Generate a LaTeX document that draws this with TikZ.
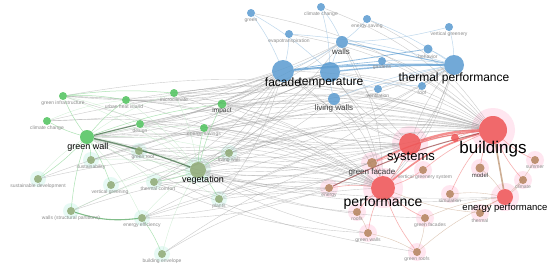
\documentclass[tikz,border=0pt]{standalone}
\usepackage{fontspec}
\setmainfont{Liberation Sans}
\usetikzlibrary{positioning}

\definecolor{kwblue}{HTML}{5A9BD0}
\definecolor{kwgreen}{HTML}{4EC25C}
\definecolor{kwolive}{HTML}{8EA874}
\definecolor{kwred}{HTML}{EE5454}
\definecolor{kwbrown}{HTML}{B3835C}
\definecolor{lbgray}{HTML}{8C8C8C}
\definecolor{lbdark}{HTML}{3A3A3A}
\definecolor{halopink}{HTML}{FFC9DE}
\definecolor{halocyan}{HTML}{C9F3E8}

\pgfdeclarelayer{back}
\pgfsetlayers{back,main}

\begin{document}
\begin{tikzpicture}[x=1pt, y=-1pt,
  kw/.style={circle, inner sep=0pt, fill opacity=0.85, minimum size=#1},
  kb/.style={kw=#1, fill=kwblue},   kb/.default=8pt,
  kg/.style={kw=#1, fill=kwgreen},  kg/.default=8pt,
  ko/.style={kw=#1, fill=kwolive},  ko/.default=8pt,
  kr/.style={kw=#1, fill=kwred},    kr/.default=8pt,
  kn/.style={kw=#1, fill=kwbrown},  kn/.default=8pt,
  tsm/.style={font=\fontsize{5}{5}\selectfont, text=lbgray, inner sep=0pt},
  tmid/.style={font=\fontsize{#1}{#1}\selectfont, text=lbdark, inner sep=0pt},
  tbig/.style={font=\fontsize{#1}{#1}\selectfont, text=black, inner sep=0pt},
  gedge/.style={gray!80, line width=0.4pt, opacity=0.5},
  cedge/.style={#1, opacity=0.65},
  halo/.style={#1, opacity=0.45},
]
\useasboundingbox (0,0) rectangle (550,268);

% Cluster 1 (blau)
\node[kb]       (green)  at (251,13) {};
\node[kb]       (climch) at (321,7)  {};
\node[kb]       (ensav)  at (367,19) {};
\node[kb]       (vgry)   at (449,27) {};
\node[kb]       (evapo)  at (289,34) {};
\node[kb=12pt]  (walls)  at (342,42) {};
\node[kb=9pt]   (behav)  at (428,49) {};
\node[kb]       (gard)   at (382,61) {};
\node[kb=22pt]  (fac)    at (283,71) {};
\node[kb=20pt]  (temp)   at (330,72) {};
\node[kb=20pt]  (thperf) at (454,65) {};
\node[kb=12pt]  (livw)   at (334,99) {};
\node[kb]       (vent)   at (378,89) {};
\node[kb]       (roof)   at (422,86) {};

% Cluster 2 (gruen)
\node[kg]       (ginfra) at (63,96)   {};
\node[kg]       (uhi)    at (126,100) {};
\node[kg]       (micro)  at (174,93)  {};
\node[kg=9pt]   (impact) at (222,104) {};
\node[kg]       (gclim)  at (47,121)  {};
\node[kg]       (design) at (140,124) {};
\node[kg]       (esavs)  at (204,128) {};
\node[kg=14pt]  (gwall)  at (87,137)  {};
\node[ko]       (groof)  at (139,151) {};
\node[ko]       (livwl)  at (229,153) {};
\node[ko]       (sust)   at (91,160)  {};
\node[ko=16pt]  (veg)    at (198,170) {};
\node[ko]       (sdev)   at (38,179)  {};
\node[ko]       (vgrng)  at (111,185) {};
\node[ko]       (tcomf)  at (154,182) {};
\node[ko]       (plants) at (219,199) {};
\node[ko]       (wsp)    at (71,211)  {};
\node[ko]       (eeff)   at (142,218) {};
\node[ko]       (benv)   at (162,254) {};

% Cluster 3 (rot)
\node[kr=28pt]  (bld)    at (493,130) {};
\node[kr=22pt]  (sys)    at (410,144) {};
\node[kr=24pt]  (perf)   at (383,188) {};
\node[kr=16pt]  (eperf)  at (505,197) {};
\node[kr]       (gsys)   at (455,138) {};
\node[kn=10pt]  (gfac)   at (372,163) {};
\node[kn]       (vgs)    at (423,170) {};
\node[kn]       (energy) at (329,188) {};
\node[kn]       (roofs)  at (357,212) {};
\node[kn]       (gwalls) at (368,233) {};
\node[kn]       (gfacs)  at (425,218) {};
\node[kn]       (groofs) at (417,252) {};
\node[kn=9pt]   (model)  at (480,168) {};
\node[kn]       (summer) at (535,160) {};
\node[kn]       (clim)   at (523,180) {};
\node[kn]       (simu)   at (450,194) {};
\node[kn]       (therm)  at (480,213) {};

\begin{pgfonlayer}{back}
\fill[white] (0,0) rectangle (550,268);
% Hoefe
\foreach \n/\r in {bld/22, sys/18, perf/20, eperf/14, gfac/11, vgs/9, energy/9, roofs/9,
                   gwalls/9, gfacs/9, groofs/9, model/9, summer/9, clim/9, simu/9, therm/9}
  \fill[halo=halopink] (\n) circle (\r);
\foreach \n in {groof, livwl, sust, sdev, vgrng, tcomf, plants, wsp, eeff, benv}
  \fill[halo=halocyan] (\n) circle (8);
\fill[halo=halocyan] (veg) circle (13);
% Graue Kanten
\foreach \a/\b in {bld/gwall, bld/veg, bld/fac, bld/temp, bld/walls, bld/livw, bld/ginfra,
                   bld/micro, bld/impact, bld/design, bld/esavs, bld/groof, bld/livwl,
                   bld/sust, bld/tcomf, bld/plants, bld/eeff, bld/benv, bld/vgrng, bld/wsp,
                   bld/evapo, bld/green, bld/climch, bld/ensav, bld/uhi, perf/gwall,
                   perf/fac, perf/temp, perf/thperf, perf/walls, perf/livw, perf/impact,
                   perf/design, perf/esavs, perf/tcomf, perf/eeff, perf/benv, perf/plants,
                   perf/ginfra, perf/uhi, perf/sdev, perf/wsp, perf/gclim, perf/sust,
                   bld/gclim, bld/sdev, perf/micro, perf/groof}
  \draw[gedge] (\a) to[bend right=14] (\b);
\foreach \a/\b in {sys/gwall, sys/veg, sys/fac, sys/temp, sys/thperf, sys/walls, sys/livw,
                   sys/impact, sys/design, sys/micro, sys/esavs, sys/plants, sys/groof,
                   fac/gwall, fac/veg, fac/impact, fac/micro, fac/uhi, fac/design,
                   fac/esavs, fac/livwl, fac/tcomf, fac/plants, fac/ginfra, temp/gwall,
                   temp/veg, temp/impact, temp/micro, temp/uhi, temp/design, temp/esavs,
                   temp/tcomf, thperf/gwall, thperf/veg, thperf/impact, thperf/livwl,
                   thperf/eeff, thperf/perf, thperf/sys, eperf/veg, eperf/gwall,
                   gfac/gwall, gfac/veg, livw/veg, livw/gwall, walls/gwall, walls/veg,
                   energy/gwall, energy/veg, gwalls/veg, roofs/veg, groofs/gwall,
                   sys/ginfra, sys/uhi, sys/tcomf, sys/eeff, fac/gclim, fac/sust,
                   temp/ginfra, walls/impact, walls/micro, livw/impact, thperf/uhi,
                   energy/tcomf, energy/eeff, gfacs/veg, gwalls/tcomf}
  \draw[gedge] (\a) to[bend left=10] (\b);
\foreach \a/\b in {gwall/micro, gwall/esavs, gwall/livwl, gwall/tcomf, gwall/eeff,
                   gwall/plants, gwall/groof, ginfra/design, gclim/uhi, sust/veg,
                   sdev/gwall, vgrng/veg, wsp/veg, benv/veg, eeff/veg, uhi/veg,
                   micro/veg, design/veg, groof/veg, ginfra/veg}
  \draw[kwgreen!40, line width=0.35pt, opacity=0.6] (\a) to[bend left=8] (\b);
% Farbige Kanten
\draw[cedge=kwblue, line width=1.8pt] (fac) to[bend left=3] (thperf);
\draw[cedge=kwblue, line width=1.4pt] (temp) to[bend left=3] (thperf);
\draw[cedge=kwblue, line width=1pt] (walls) -- (thperf);
\draw[cedge=kwblue, line width=0.8pt] (behav) -- (fac);
\draw[cedge=kwblue, line width=0.6pt] (gard) -- (fac);
\foreach \a/\b in {ensav/thperf, evapo/thperf, livw/thperf, temp/walls, walls/fac,
                   vgry/thperf, behav/thperf, roof/temp, vent/temp, climch/temp,
                   green/fac, evapo/fac, ensav/walls, livw/temp, roof/thperf, vent/thperf,
                   climch/walls, green/temp, vgry/walls, gard/thperf}
  \draw[cedge=kwblue!60, line width=0.5pt] (\a) to[bend left=6] (\b);
\draw[cedge=kwgreen!45!black, line width=1.3pt] (gwall) to[bend left=4] (veg);
\draw[cedge=kwgreen!45!black, line width=1pt] (gwall) -- (design);
\draw[cedge=kwgreen!80!black, line width=1.1pt] (wsp) to[bend right=12] (eeff);
\foreach \a/\b in {gwall/ginfra, gwall/uhi, gwall/gclim, gwall/sust, ginfra/uhi,
                   ginfra/micro, wsp/gwall, veg/livwl, veg/esavs, veg/tcomf, veg/plants,
                   gwall/vgrng, gwall/impact, veg/impact, gwall/sdev, eeff/benv}
  \draw[cedge=kwgreen!70, line width=0.5pt] (\a) to[bend left=6] (\b);
\draw[cedge=kwred, line width=2.4pt] (sys) to[bend left=8] (bld);
\draw[cedge=kwred, line width=1.6pt] (perf) to[bend left=12] (bld);
\draw[cedge=kwred, line width=1.2pt] (gfac) to[bend left=10] (bld);
\draw[cedge=kwred!60!black, line width=1pt] (energy) to[bend left=6] (bld);
\draw[cedge=kwbrown, line width=1.6pt] (eperf) -- (bld);
\foreach \a/\b in {model/bld, summer/bld, clim/bld, sys/perf, gfac/perf, roofs/perf,
                   gwalls/perf, gfacs/perf, groofs/perf, therm/eperf, simu/bld, vgs/bld,
                   sys/gfac, gsys/bld, energy/perf, vgs/perf}
  \draw[cedge=kwred!70, line width=0.6pt] (\a) to[bend left=8] (\b);
\foreach \a/\b in {roofs/gwalls, gwalls/groofs, gfacs/groofs, model/eperf, clim/eperf,
                   summer/eperf, simu/eperf, therm/perf, gfacs/eperf, groofs/eperf}
  \draw[cedge=kwbrown!70, line width=0.4pt] (\a) to[bend left=8] (\b);
\end{pgfonlayer}

% Beschriftungen
\node[tsm]        (t-green)  at (251,20.5) {green};
\node[tsm]        (t-climch) at (321,14.5) {climate change};
\node[tsm]        (t-ensav)  at (367,26.5) {energy saving};
\node[tsm]        (t-vgry)   at (449,34.5) {vertical greenery};
\node[tsm]        (t-evapo)  at (289,41.5) {evapotranspiration};
\node[tmid=8]     (t-walls)  at (341,52)   {walls};
\node[tsm]        (t-behav)  at (428,57)   {behavior};
\node[tsm]        (t-gard)   at (382,67.5) {gardens};
\node[tbig=12]    (t-fac)    at (283,82.5) {facade};
\node[tbig=12]    (t-temp)   at (331,82.5) {temperature};
\node[tbig=12]    (t-thperf) at (454,78)   {thermal performance};
\node[tmid=8]     (t-livw)   at (334,108)  {living walls};
\node[tsm]        (t-vent)   at (378,96)   {ventilation};
\node[tsm]        (t-roof)   at (422,92.5) {roof};

\node[tsm]        (t-ginfra) at (63,103)   {green infrastructure};
\node[tsm]        (t-uhi)    at (124,107)  {urban heat island};
\node[tsm]        (t-micro)  at (174,99.5) {microclimate};
\node[tmid=6.5]   (t-impact) at (222,111)  {impact};
\node[tsm]        (t-gclim)  at (47,128)   {climate change};
\node[tsm]        (t-design) at (140,131)  {design};
\node[tsm]        (t-esavs)  at (204,134.5) {energy savings};
\node[tbig=9]     (t-gwall)  at (88,147)   {green wall};
\node[tsm]        (t-groof)  at (143,157.5) {green roof};
\node[tsm]        (t-livwl)  at (229,160)  {living wall};
\node[tsm]        (t-sust)   at (91,167.5) {sustainability};
\node[tbig=9]     (t-veg)    at (203,180)  {vegetation};
\node[tsm]        (t-sdev)   at (38,186)   {sustainable development};
\node[tsm]        (t-vgrng)  at (110,192.5) {vertical greening};
\node[tsm]        (t-tcomf)  at (158,188.5) {thermal comfort};
\node[tsm]        (t-plants) at (219,206)  {plants};
\node[tsm]        (t-wsp)    at (71,218)   {walls (structural partitions)};
\node[tsm]        (t-eeff)   at (142,225.5) {energy efficiency};
\node[tsm]        (t-benv)   at (162,261)  {building envelope};

\node[tbig=17]    (t-bld)    at (493,149)  {buildings};
\node[tbig=13]    (t-sys)    at (411,158)  {systems};
\node[tbig=14]    (t-perf)   at (383,203)  {performance};
\node[tbig=9.5]   (t-eperf)  at (505,208)  {energy performance};
\node[tmid=8]     (t-gfac)   at (372,172.5) {green facade};
\node[tsm]        (t-vgs)    at (425,177)  {vertical greenery system};
\node[tsm]        (t-energy) at (329,195.5) {energy};
\node[tsm]        (t-roofs)  at (357,219)  {roofs};
\node[tsm]        (t-gwalls) at (368,240.5) {green walls};
\node[tsm]        (t-gfacs)  at (430,225)  {green facades};
\node[tsm]        (t-groofs) at (417,259)  {green roofs};
\node[tmid=6]     (t-model)  at (480,175)  {model};
\node[tsm]        (t-summer) at (535,167)  {summer};
\node[tsm]        (t-clim)   at (523,187)  {climate};
\node[tsm]        (t-simu)   at (450,200.5) {simulation};
\node[tsm]        (t-therm)  at (480,221)  {thermal};
\end{tikzpicture}
\end{document}
